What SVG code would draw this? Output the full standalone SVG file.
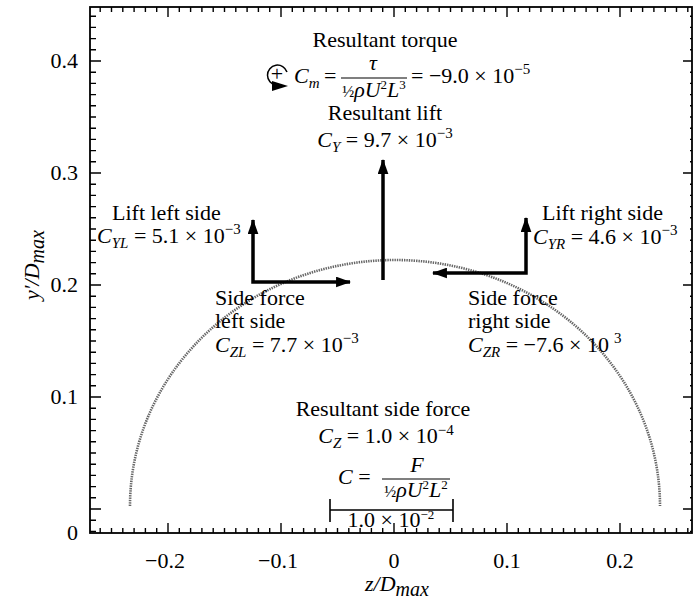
<svg xmlns="http://www.w3.org/2000/svg" width="695" height="604" viewBox="0 0 695 604">
<style>
text{font-family:"Liberation Serif","Times New Roman",serif;font-size:22px;fill:#000}
.i{font-style:italic}
.sub{font-size:15px;font-style:italic}
.sup{font-size:15px}
.tick{stroke:#000;stroke-width:1.4;fill:none}
.frame{stroke:#000;stroke-width:1.8;fill:none}
.arr{stroke:#000;stroke-width:3.5;fill:none}
</style>
<defs>
<marker id="ah" viewBox="0 0 14 10" refX="13" refY="5" markerWidth="15" markerHeight="11" markerUnits="userSpaceOnUse" orient="auto-start-reverse">
<path d="M0,0 L14,5 L0,10 Z" fill="#000"/>
</marker>
</defs>
<rect width="695" height="604" fill="#fff"/>
<g id="axes">
<rect class="frame" x="90" y="7" width="602" height="526"/>
<path class="tick" d="M90,531.4h6M90,520.2h6M90,497.8h6M90,486.6h6M90,475.4h6M90,464.2h6M90,453h6M90,441.8h6M90,430.6h6M90,419.4h6M90,408.2h6M90,385.8h6M90,374.6h6M90,363.4h6M90,352.2h6M90,341h6M90,329.8h6M90,318.6h6M90,307.4h6M90,296.2h6M90,273.8h6M90,262.6h6M90,251.4h6M90,240.2h6M90,229h6M90,217.8h6M90,206.6h6M90,195.4h6M90,184.2h6M90,161.8h6M90,150.6h6M90,139.4h6M90,128.2h6M90,117h6M90,105.8h6M90,94.6h6M90,83.4h6M90,72.2h6M90,49.8h6M90,38.6h6M90,27.4h6M90,16.2h6"/>
<path class="tick" d="M90,509h11M90,397h11M90,285h11M90,173h11M90,61h11"/>
<path class="tick" d="M692,531.4h-2M692,520.2h-2M692,497.8h-2M692,486.6h-2M692,475.4h-2M692,464.2h-2M692,453h-2M692,441.8h-2M692,430.6h-2M692,419.4h-2M692,408.2h-2M692,385.8h-2M692,374.6h-2M692,363.4h-2M692,352.2h-2M692,341h-2M692,329.8h-2M692,318.6h-2M692,307.4h-2M692,296.2h-2M692,273.8h-2M692,262.6h-2M692,251.4h-2M692,240.2h-2M692,229h-2M692,217.8h-2M692,206.6h-2M692,195.4h-2M692,184.2h-2M692,161.8h-2M692,150.6h-2M692,139.4h-2M692,128.2h-2M692,117h-2M692,105.8h-2M692,94.6h-2M692,83.4h-2M692,72.2h-2M692,49.8h-2M692,38.6h-2M692,27.4h-2M692,16.2h-2"/>
<path class="tick" d="M692,509h-9M692,397h-9M692,285h-9M692,173h-9M692,61h-9"/>
<path class="tick" d="M100.2,533v-5M111.5,533v-5M122.8,533v-5M134.1,533v-5M145.4,533v-5M156.7,533v-5M179.3,533v-5M190.6,533v-5M201.9,533v-5M213.2,533v-5M224.5,533v-5M235.8,533v-5M247.1,533v-5M258.4,533v-5M269.7,533v-5M292.3,533v-5M303.6,533v-5M314.9,533v-5M326.2,533v-5M337.5,533v-5M348.8,533v-5M360.1,533v-5M371.4,533v-5M382.7,533v-5M405.3,533v-5M416.6,533v-5M427.9,533v-5M439.2,533v-5M450.5,533v-5M461.8,533v-5M473.1,533v-5M484.4,533v-5M495.7,533v-5M518.3,533v-5M529.6,533v-5M540.9,533v-5M552.2,533v-5M563.5,533v-5M574.8,533v-5M586.1,533v-5M597.4,533v-5M608.7,533v-5M631.3,533v-5M642.6,533v-5M653.9,533v-5M665.2,533v-5M676.5,533v-5M687.8,533v-5"/>
<path class="tick" d="M168,533v-10M281,533v-10M394,533v-10M507,533v-10M620,533v-10"/>
<path class="tick" d="M100.2,7v5M111.5,7v5M122.8,7v5M134.1,7v5M145.4,7v5M156.7,7v5M179.3,7v5M190.6,7v5M201.9,7v5M213.2,7v5M224.5,7v5M235.8,7v5M247.1,7v5M258.4,7v5M269.7,7v5M292.3,7v5M303.6,7v5M314.9,7v5M326.2,7v5M337.5,7v5M348.8,7v5M360.1,7v5M371.4,7v5M382.7,7v5M405.3,7v5M416.6,7v5M427.9,7v5M439.2,7v5M450.5,7v5M461.8,7v5M473.1,7v5M484.4,7v5M495.7,7v5M518.3,7v5M529.6,7v5M540.9,7v5M552.2,7v5M563.5,7v5M574.8,7v5M586.1,7v5M597.4,7v5M608.7,7v5M631.3,7v5M642.6,7v5M653.9,7v5M665.2,7v5M676.5,7v5M687.8,7v5"/>
<path class="tick" d="M168,7v10M281,7v10M394,7v10M507,7v10M620,7v10"/>
<g id="ylabels" text-anchor="end">
<text x="78" y="68" font-size="21">0.4</text>
<text x="78" y="180" font-size="21">0.3</text>
<text x="78" y="292" font-size="21">0.2</text>
<text x="78" y="404" font-size="21">0.1</text>
<text x="78" y="540" font-size="21">0</text>
</g>
<g id="xlabels" text-anchor="middle">
<text x="165" y="568" font-size="21">−0.2</text>
<text x="278" y="568" font-size="21">−0.1</text>
<text x="394" y="568" font-size="21">0</text>
<text x="507" y="568" font-size="21">0.1</text>
<text x="620" y="568" font-size="21">0.2</text>
</g>
<text class="i" x="397" y="591" text-anchor="middle" font-size="28">z/D<tspan font-size="20" dy="5">max</tspan></text>
<text class="i" transform="translate(39,265) rotate(-90)" text-anchor="middle" font-size="28">y′/D<tspan font-size="20" dy="5">max</tspan></text>
</g>
<g id="body">
<path d="M130,506 A265,246 0 0 1 660,506" fill="none" stroke="#666" stroke-width="2.6" stroke-dasharray="1.4 1"/>
</g>
<g id="connectors">
<path class="arr" d="M383,280 V160" marker-end="url(#ah)"/>
<path class="arr" d="M253,220 V282 H350" marker-start="url(#ah)" marker-end="url(#ah)"/>
<path class="arr" d="M526,218 V273 H433" marker-start="url(#ah)" marker-end="url(#ah)"/>
</g>
<g id="torque">
<text x="385" y="47" text-anchor="middle">Resultant torque</text>
<path d="M287,72 A10,10 0 1 0 276,85" fill="none" stroke="#000" stroke-width="1.5"/>
<path d="M272,81 L288,86 L272,91 Z" fill="#000"/>
<text x="277" y="81" text-anchor="middle" font-size="16">+</text>
<text x="294" y="83"><tspan class="i">C</tspan><tspan class="sub" dy="5">m</tspan></text>
<text x="324" y="83">=</text>
<text x="373" y="70" text-anchor="middle" class="i">τ</text>
<line x1="341" y1="78" x2="407" y2="78" stroke="#000" stroke-width="1.2"/>
<text x="374" y="97" text-anchor="middle" font-size="20"><tspan font-size="16">½</tspan><tspan class="i">ρU</tspan><tspan font-size="13" dy="-8">2</tspan><tspan class="i" dy="8">L</tspan><tspan font-size="13" dy="-8">3</tspan></text>
<text x="411" y="83">= −9.0 × 10<tspan class="sup" dy="-9">−5</tspan></text>
</g>
<g id="lift">
<text x="385" y="120" text-anchor="middle">Resultant lift</text>
<text x="385" y="147" text-anchor="middle"><tspan class="i">C</tspan><tspan class="sub" dy="5">Y</tspan><tspan dy="-5"> = 9.7 × 10</tspan><tspan class="sup" dy="-9">−3</tspan></text>
</g>
<g id="lift-left">
<text x="112" y="220">Lift left side</text>
<text x="97" y="243"><tspan class="i">C</tspan><tspan class="sub" dy="5">YL</tspan><tspan dy="-5"> = 5.1 × 10</tspan><tspan class="sup" dy="-9">−3</tspan></text>
</g>
<g id="lift-right">
<text x="542" y="220">Lift right side</text>
<text x="533" y="244"><tspan class="i">C</tspan><tspan class="sub" dy="5">YR</tspan><tspan dy="-5"> = 4.6 × 10</tspan><tspan class="sup" dy="-9">−3</tspan></text>
</g>
<g id="side-left">
<text x="215" y="305">Side force</text>
<text x="215" y="328">left side</text>
<text x="215" y="352"><tspan class="i">C</tspan><tspan class="sub" dy="5">ZL</tspan><tspan dy="-5"> = 7.7 × 10</tspan><tspan class="sup" dy="-9">−3</tspan></text>
</g>
<g id="side-right">
<text x="468" y="305">Side force</text>
<text x="468" y="328">right side</text>
<text x="468" y="352"><tspan class="i">C</tspan><tspan class="sub" dy="5">ZR</tspan><tspan dy="-5"> = −7.6 × 10</tspan><tspan class="sup" dx="5" dy="-9">3</tspan></text>
</g>
<g id="side-total">
<text x="383" y="416" text-anchor="middle">Resultant side force</text>
<text x="386" y="443" text-anchor="middle"><tspan class="i">C</tspan><tspan class="sub" dy="5">Z</tspan><tspan dy="-5"> = 1.0 × 10</tspan><tspan class="sup" dy="-8">−4</tspan></text>
</g>
<g id="scale">
<text x="338" y="484"><tspan class="i">C</tspan> =</text>
<text x="417" y="472" text-anchor="middle" class="i">F</text>
<line x1="382" y1="479" x2="450" y2="479" stroke="#000" stroke-width="1.2"/>
<text x="416" y="497" text-anchor="middle" font-size="20"><tspan font-size="16">½</tspan><tspan class="i">ρU</tspan><tspan font-size="13" dy="-8">2</tspan><tspan class="i" dy="8">L</tspan><tspan font-size="13" dy="-8">2</tspan></text>
<path d="M330,499 V522 M453,499 V522 M330,510 H453" fill="none" stroke="#000" stroke-width="1.6"/>
<text x="391" y="527" text-anchor="middle" font-size="19">1.0 × 10<tspan font-size="13" dy="-8">−2</tspan></text>
</g>
</svg>
